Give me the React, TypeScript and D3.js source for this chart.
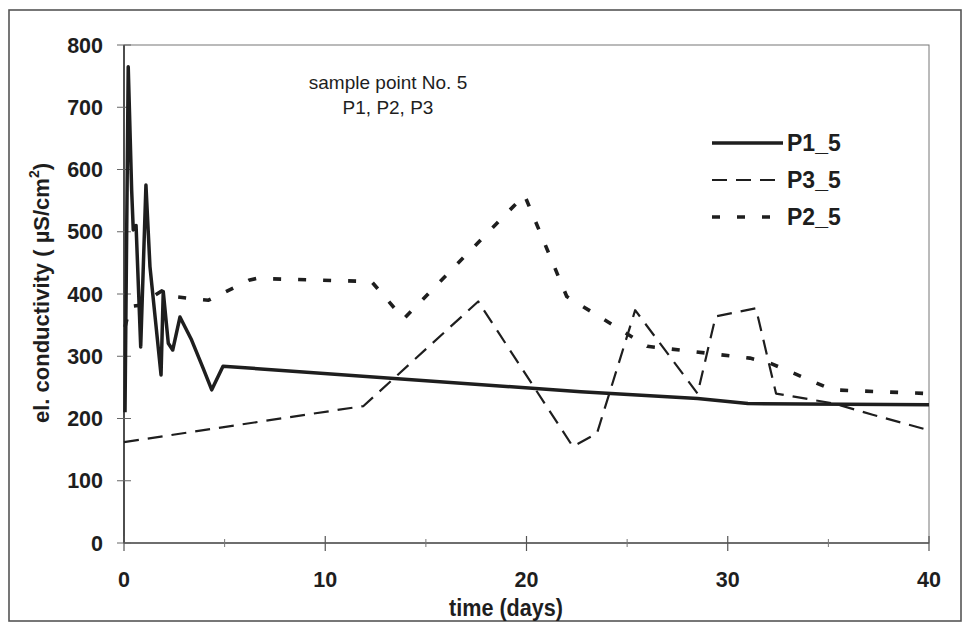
import React from "react";
import * as d3 from "d3";

const xTicks = [0, 10, 20, 30, 40];
const xMinorTicks = [5, 15, 25, 35];
const yTicks = [0, 100, 200, 300, 400, 500, 600, 700, 800];

// [day, conductivity]
const p1Data: [number, number][] = [
  [0.05, 210], [0.21, 765], [0.38, 567], [0.46, 503], [0.6, 510], [0.83, 315],
  [1.09, 575], [1.29, 444], [1.84, 270], [1.95, 404], [2.2, 321], [2.42, 310],
  [2.78, 363], [3.36, 326], [3.93, 281], [4.36, 246], [4.92, 284], [22.7, 243],
  [28.5, 232], [31, 224], [40, 222],
];
const p2Data: [number, number][] = [
  [0.05, 347], [0.3, 380], [0.8, 382], [1.87, 405], [2.45, 396], [3.5, 392],
  [4.2, 390], [6.2, 422], [6.6, 425], [12.3, 420], [13.9, 360], [19.9, 559],
  [22.0, 396], [26.0, 316], [31.1, 297], [32.1, 289], [35.2, 246], [40, 240],
];
const p3Data: [number, number][] = [
  [0, 162], [11.9, 220], [17.6, 388], [22.3, 155], [23.5, 176], [25.4, 374],
  [28.5, 240], [29.4, 364], [31.4, 377], [32.4, 240], [35.3, 224], [37.2, 206],
  [40, 181],
];
const legendNames = ["P1_5", "P3_5", "P2_5"];
const titleLines = ["sample point No. 5", "P1, P2, P3"];

const W = 967;
const H = 630;
const L = 124, R = 929, T = 45, B = 543;
const INK = "#1e1e1e";
const sans = "'Liberation Sans', Arial, sans-serif";

export default function App() {
  const x = d3.scaleLinear().domain([0, 40]).range([L, R]);
  const y = d3.scaleLinear().domain([0, 800]).range([B, T]);
  const line = d3.line<[number, number]>().x((d) => x(d[0])).y((d) => y(d[1]));

  const styles = [
    { data: p1Data, dash: "none", w: 3.5 },
    { data: p3Data, dash: "15,9", w: 2.2 },
    { data: p2Data, dash: "8,17", w: 3.6 },
  ];
  const legendY = [143, 180, 217];

  return (
    <svg width={W} height={H} style={{ position: "fixed", left: 0, top: 0, background: "#fff" }}>
      <rect x={9} y={10} width={952} height={611} fill="#fff" stroke="#555" strokeWidth={1.6} />
      {/* plot frame */}
      <rect x={L} y={T} width={R - L} height={B - T} fill="none" stroke="#777" strokeWidth={1} />
      <line x1={L} x2={L} y1={T} y2={B} stroke="#333" strokeWidth={1.6} />
      <line x1={L} x2={R} y1={B} y2={B} stroke="#555" strokeWidth={1.3} />
      {/* y ticks */}
      {yTicks.map((t) => (
        <g key={"y" + t}>
          <line x1={L - 7} x2={L + 7} y1={y(t)} y2={y(t)} stroke="#666" strokeWidth={1} />
          <text x={103} y={y(t) + 7.5} textAnchor="end" fontFamily={sans} fontWeight="bold" fontSize={21.5} fill={INK}>
            {t}
          </text>
        </g>
      ))}
      {/* x ticks */}
      {xTicks.map((t) => (
        <g key={"x" + t}>
          <line x1={x(t)} x2={x(t)} y1={B - 7} y2={B + 8} stroke="#555" strokeWidth={1.2} />
          <text x={x(t)} y={587} textAnchor="middle" fontFamily={sans} fontWeight="bold" fontSize={21.5} fill={INK}>
            {t}
          </text>
        </g>
      ))}
      {xMinorTicks.map((t) => (
        <line key={"m" + t} x1={x(t)} x2={x(t)} y1={B - 4} y2={B + 4} stroke="#777" strokeWidth={1} />
      ))}
      <text
        transform="translate(506,616) scale(0.9,1)"
        textAnchor="middle"
        fontFamily={sans}
        fontWeight="bold"
        fontSize={24}
        fill={INK}
      >
        time (days)
      </text>
      <text
        transform="translate(49,293) rotate(-90)"
        textAnchor="middle"
        fontFamily={sans}
        fontWeight="bold"
        fontSize={22}
        fill={INK}
      >
        el. conductivity ( µS/cm
        <tspan fontSize={14} dy={-10}>2</tspan>
        <tspan dy={10}>)</tspan>
      </text>
      {titleLines.map((s, i) => (
        <text key={s} x={388} y={89 + i * 25} textAnchor="middle" fontFamily={sans} fontSize={19} fill={INK}>
          {s}
        </text>
      ))}
      {/* series */}
      {styles.map((s, i) => (
        <path
          key={"s" + i}
          d={line(s.data) || ""}
          fill="none"
          stroke={INK}
          strokeWidth={s.w}
          strokeDasharray={s.dash}
          strokeLinejoin="round"
        />
      ))}
      {/* legend */}
      {legendNames.map((n, i) => (
        <g key={n}>
          <line
            x1={712}
            x2={783}
            y1={legendY[i]}
            y2={legendY[i]}
            stroke={INK}
            strokeWidth={styles[i].w}
            strokeDasharray={styles[i].dash}
          />
          <text x={787} y={legendY[i] + 8} fontFamily={sans} fontWeight="bold" fontSize={23} fill={INK}>
            {n}
          </text>
        </g>
      ))}
    </svg>
  );
}
